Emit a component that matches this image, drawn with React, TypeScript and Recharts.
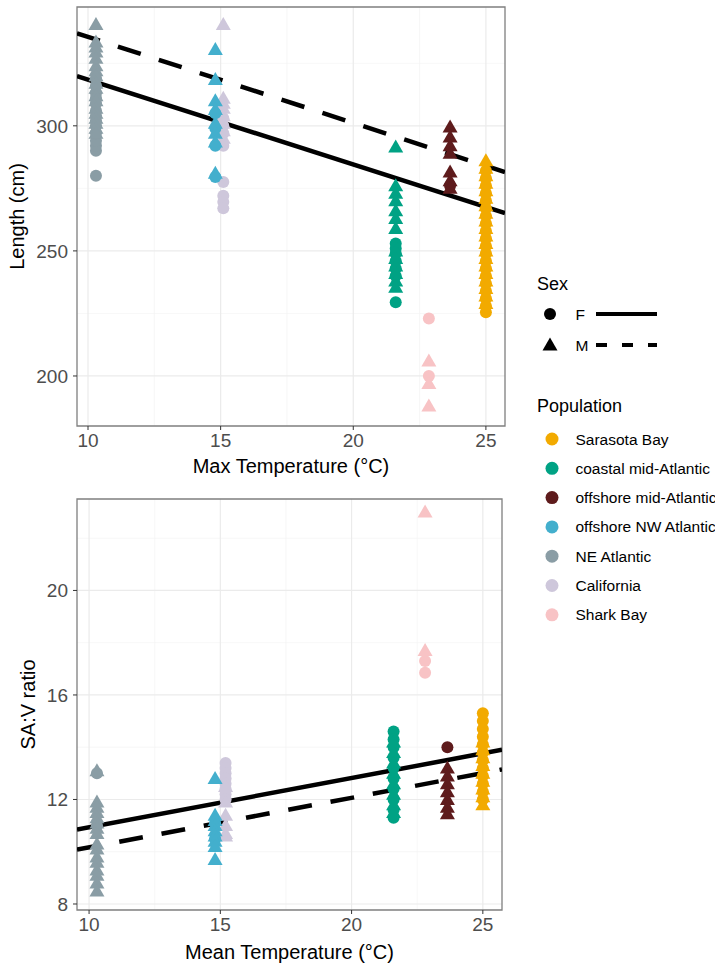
import { ScatterChart, Scatter, XAxis, YAxis, CartesianGrid, ReferenceArea } from 'recharts';

const FONT = '"Liberation Sans", Arial, Helvetica, sans-serif';

// populations in legend order
const populations = [
  'Sarasota Bay', 'coastal mid-Atlantic', 'offshore mid-Atlantic',
  'offshore NW Atlantic', 'NE Atlantic', 'California', 'Shark Bay',
];
const popColors = ['#F2AA00', '#00A284', '#5E1B1C', '#43AFCD', '#8A9DA5', '#CEC7DB', '#F8C3C5'];
// drawing order (later ones sit on top)
const drawOrder = [4, 5, 3, 1, 6, 2, 0];

const maxTemp = [25, 21.6, 23.65, 14.8, 10.3, 15.1, 22.85];
const meanTemp = [25, 21.6, 23.65, 14.8, 10.3, 15.2, 22.8];

// Length (cm), per population
const lengthF = [
  [282, 279, 276, 273, 270, 267, 264, 261, 258, 255, 252, 249, 246, 243, 240, 237, 234, 231, 228, 225.5],
  [253, 251, 249, 246, 243, 240, 229.5],
  [276],
  [305, 299, 292, 279.5],
  [280, 290, 292, 294, 297, 300, 302, 304, 306, 309, 311, 313, 316, 319],
  [303, 300, 297, 292, 277.5, 272, 269.5, 267],
  [223, 200],
];
const lengthM = [
  [286, 283, 280, 277, 274, 271, 268, 265, 262, 259, 256, 253, 250, 247, 244, 241, 238, 235, 232, 229],
  [291.5, 276, 273, 270, 266, 263, 259, 250, 247, 244, 241, 238, 235.5],
  [299.5, 295.5, 292, 289, 281.5, 278, 275],
  [330.5, 318.5, 310, 306.5, 301, 297, 293.5, 281],
  [340.5, 333.5, 331.5, 329.5, 327, 324, 322, 320, 317, 315, 312, 310, 307, 305, 303, 301, 299, 297],
  [340.5, 311, 309, 307, 304, 301, 298, 295],
  [206, 197, 188],
];

// SA:V ratio, per population
const savF = [
  [15.3, 15.0, 14.7, 14.4, 14.1, 13.8, 13.5, 13.2, 12.9, 12.6, 12.3, 12.0],
  [14.6, 14.3, 14.0, 13.6, 13.2, 12.8, 12.4, 12.0, 11.6, 11.3],
  [14.0],
  [11.1, 10.5],
  [13.0, 11.0],
  [13.4, 13.2, 13.0, 12.8, 12.6, 12.4, 12.2, 12.0],
  [17.3, 16.85],
];
const savM = [
  [14.2, 13.9, 13.6, 13.3, 13.0, 12.7, 12.4, 12.1, 11.8],
  [14.2, 13.8, 13.4, 13.0, 12.6, 12.2, 11.8, 11.5],
  [13.2, 12.9, 12.6, 12.3, 12.0, 11.7, 11.45],
  [12.8, 11.4, 11.2, 11.0, 10.8, 10.6, 10.4, 10.2, 9.7],
  [13.1, 11.9, 11.7, 11.5, 11.3, 11.1, 10.9, 10.7, 10.3, 10.1, 9.8, 9.6, 9.3, 9.1, 8.8, 8.5],
  [12.5, 11.9, 11.4, 11.0, 10.7, 10.6],
  [23.0, 17.7],
];

// fitted lines, read at the panel edges
const lenFitX = [9.585, 25.72];
const lenFitF = [319.9, 265.1];
const lenFitM = [337, 281.5];
const savFitX = [9.54, 25.73];
const savFitF = [10.85, 13.9];
const savFitM = [10.08, 13.15];

const lenDomain: [number, number] = [180, 347.5];
const lenXDomain: [number, number] = [9.585, 25.72];
const savDomain: [number, number] = [7.77, 23.5];
const savXDomain: [number, number] = [9.54, 25.73];

const toPts = (xs: number[], ys: number[]) => ys.map((y, i) => ({ x: xs[i], y }));
const column = (x: number, ys: number[]) => ys.map((y) => ({ x, y }));

const Dot = (color: string) => (p: any) => <circle cx={p.cx} cy={p.cy} r={6} fill={color} />;
const Tri = (color: string) => (p: any) => (
  <polygon
    points={`${p.cx},${p.cy - 7.5} ${p.cx - 7.5},${p.cy + 5.5} ${p.cx + 7.5},${p.cy + 5.5}`}
    fill={color}
  />
);
const Nothing = () => <g />;

interface PanelProps {
  temps: number[];
  fem: number[][];
  mal: number[][];
  fitX: number[];
  fitF: number[];
  fitM: number[];
  xDomain: [number, number];
  yDomain: [number, number];
  yTicks: number[];
  yMinor: number[];
  xTitle: string;
  yTitle: string;
  width: number;
  height: number;
  margin: { top: number; right: number; bottom: number; left: number };
  xAxisHeight: number;
  xTitleOffset: number;
  yTitleOffset: number;
}

function Panel(props: PanelProps) {
  const { temps, fem, mal, fitX, fitF, fitM, xDomain, yDomain } = props;
  const tick = { fill: '#4D4D4D', fontSize: 19, fontFamily: FONT };
  return (
    <ScatterChart width={props.width} height={props.height} margin={props.margin}>
      <CartesianGrid
        stroke="#F3F3F3"
        strokeWidth={0.7}
        horizontalValues={props.yMinor}
        verticalValues={[12.5, 17.5, 22.5]}
      />
      <CartesianGrid
        stroke="#EBEBEB"
        strokeWidth={1.2}
        horizontalValues={props.yTicks}
        verticalValues={[10, 15, 20, 25]}
      />
      <XAxis
        type="number"
        dataKey="x"
        domain={xDomain}
        allowDataOverflow
        ticks={[10, 15, 20, 25]}
        axisLine={false}
        tickLine={{ stroke: '#333333' }}
        tickSize={4}
        tickMargin={4}
        tick={tick}
        height={props.xAxisHeight}
        label={{
          value: props.xTitle,
          position: 'insideBottom',
          offset: props.xTitleOffset,
          style: { fill: '#000', fontSize: 20, fontFamily: FONT },
        }}
      />
      <YAxis
        type="number"
        dataKey="y"
        domain={yDomain}
        allowDataOverflow
        ticks={props.yTicks}
        axisLine={false}
        tickLine={{ stroke: '#333333' }}
        tickSize={4}
        tickMargin={5}
        tick={tick}
        width={77}
        label={{
          value: props.yTitle,
          angle: -90,
          position: 'insideLeft',
          offset: props.yTitleOffset,
          style: { fill: '#000', fontSize: 20, fontFamily: FONT, textAnchor: 'middle' },
        }}
      />
      <Scatter
        data={toPts(fitX, fitF)}
        shape={Nothing}
        line={{ stroke: '#000', strokeWidth: 4.5 }}
        isAnimationActive={false}
      />
      <Scatter
        data={toPts(fitX, fitM)}
        shape={Nothing}
        line={{ stroke: '#000', strokeWidth: 4.5, strokeDasharray: '24 19' }}
        isAnimationActive={false}
      />
      {drawOrder.map((i) => [
        <Scatter
          key={`f${i}`}
          name={`${populations[i]} F`}
          data={column(temps[i], fem[i])}
          shape={Dot(popColors[i])}
          isAnimationActive={false}
        />,
        <Scatter
          key={`m${i}`}
          name={`${populations[i]} M`}
          data={column(temps[i], mal[i])}
          shape={Tri(popColors[i])}
          isAnimationActive={false}
        />,
      ])}
      <ReferenceArea
        x1={xDomain[0]}
        x2={xDomain[1]}
        y1={yDomain[0]}
        y2={yDomain[1]}
        fill="none"
        stroke="#7F7F7F"
        strokeWidth={1.3}
        ifOverflow="visible"
      />
    </ScatterChart>
  );
}

function Legend() {
  const rowY = (i: number) => 179 + i * 29.3;
  return (
    <svg width={200} height={380} style={{ position: 'absolute', left: 515, top: 260 }} fontFamily={FONT}>
      <text x={22} y={29.5} fontSize={18} fill="#000">Sex</text>
      <circle cx={35} cy={54} r={6} fill="#000" />
      <text x={60.5} y={59.5} fontSize={15.5} fill="#000">F</text>
      <line x1={81} x2={142} y1={54} y2={54} stroke="#000" strokeWidth={4} />
      <polygon points="35,77.5 27.5,90.5 42.5,90.5" fill="#000" />
      <text x={60.5} y={90.5} fontSize={15.5} fill="#000">M</text>
      <line x1={81} x2={142} y1={85} y2={85} stroke="#000" strokeWidth={4} strokeDasharray="11 15" />
      <text x={22} y={152} fontSize={18} fill="#000">Population</text>
      {populations.map((p, i) => (
        <g key={p}>
          <circle cx={37} cy={rowY(i)} r={6.5} fill={popColors[i]} />
          <text x={60.5} y={rowY(i) + 5.5} fontSize={15.5} fill="#000">{p}</text>
        </g>
      ))}
    </svg>
  );
}

export default function App() {
  return (
    <div style={{ position: 'absolute', left: 0, top: 0, width: 715, height: 972, background: '#fff' }}>
      <div style={{ position: 'absolute', left: 0, top: 0 }}>
        <Panel
          temps={maxTemp}
          fem={lengthF}
          mal={lengthM}
          fitX={lenFitX}
          fitF={lenFitF}
          fitM={lenFitM}
          xDomain={lenXDomain}
          yDomain={lenDomain}
          yTicks={[200, 250, 300]}
          yMinor={[225, 275, 325]}
          xTitle="Max Temperature (°C)"
          yTitle="Length (cm)"
          width={510}
          height={480}
          margin={{ top: 7, right: 5, bottom: 0, left: 0 }}
          xAxisHeight={54}
          xTitleOffset={7}
          yTitleOffset={17}
        />
      </div>
      <div style={{ position: 'absolute', left: 0, top: 490 }}>
        <Panel
          temps={meanTemp}
          fem={savF}
          mal={savM}
          fitX={savFitX}
          fitF={savFitF}
          fitM={savFitM}
          xDomain={savXDomain}
          yDomain={savDomain}
          yTicks={[8, 12, 16, 20]}
          yMinor={[10, 14, 18, 22]}
          xTitle="Mean Temperature (°C)"
          yTitle="SA:V ratio"
          width={510}
          height={482}
          margin={{ top: 9, right: 8, bottom: 0, left: 0 }}
          xAxisHeight={62}
          xTitleOffset={13}
          yTitleOffset={28}
        />
      </div>
      <Legend />
    </div>
  );
}
